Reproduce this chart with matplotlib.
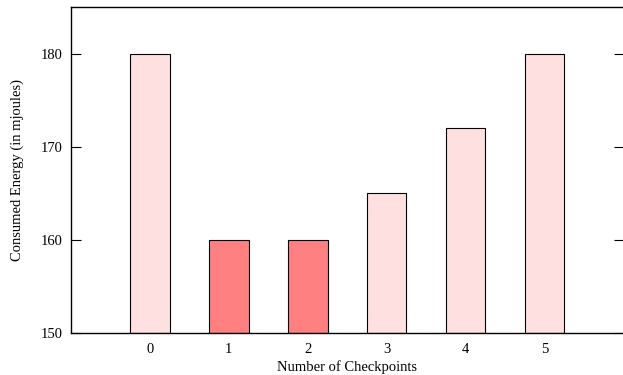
import matplotlib
matplotlib.use("Agg")
import matplotlib.pyplot as plt

checkpoints = [0, 1, 2, 3, 4, 5]
energy = [180, 160, 160, 165, 172, 180]
highlight = [False, True, True, False, False, False]
yticks = [150, 160, 170, 180]

plt.rcParams['font.family'] = ['Liberation Serif', 'DejaVu Serif']

fig = plt.figure(figsize=(6.23, 3.75), dpi=100)
ax = fig.add_axes([71/623, 42/375, 552.5/623, 326/375])

colors = ['#ff8080' if h else '#ffe0e0' for h in highlight]
ax.bar(checkpoints, [e - 150 for e in energy], bottom=150, width=0.5,
       color=colors, edgecolor='black', linewidth=0.8, zorder=2)

ax.set_xlim(-1, 6)
ax.set_ylim(150, 185)
ax.set_xticks(checkpoints)
ax.set_xticklabels([str(c) for c in checkpoints])
ax.set_yticks(yticks)
ax.tick_params(axis='x', length=0, labelsize=10.5, pad=7)
ax.tick_params(axis='y', direction='in', length=7, width=0.8, labelsize=10.5,
               right=True, pad=6)
for s in ax.spines.values():
    s.set_linewidth(1.0)
ax.spines['right'].set_visible(False)
ax.set_xlabel('Number of Checkpoints', fontsize=10.5, labelpad=3.5)
ax.set_ylabel('Consumed Energy (in mjoules)', fontsize=10.5, labelpad=12)

fig.savefig('out.png', dpi=100)
